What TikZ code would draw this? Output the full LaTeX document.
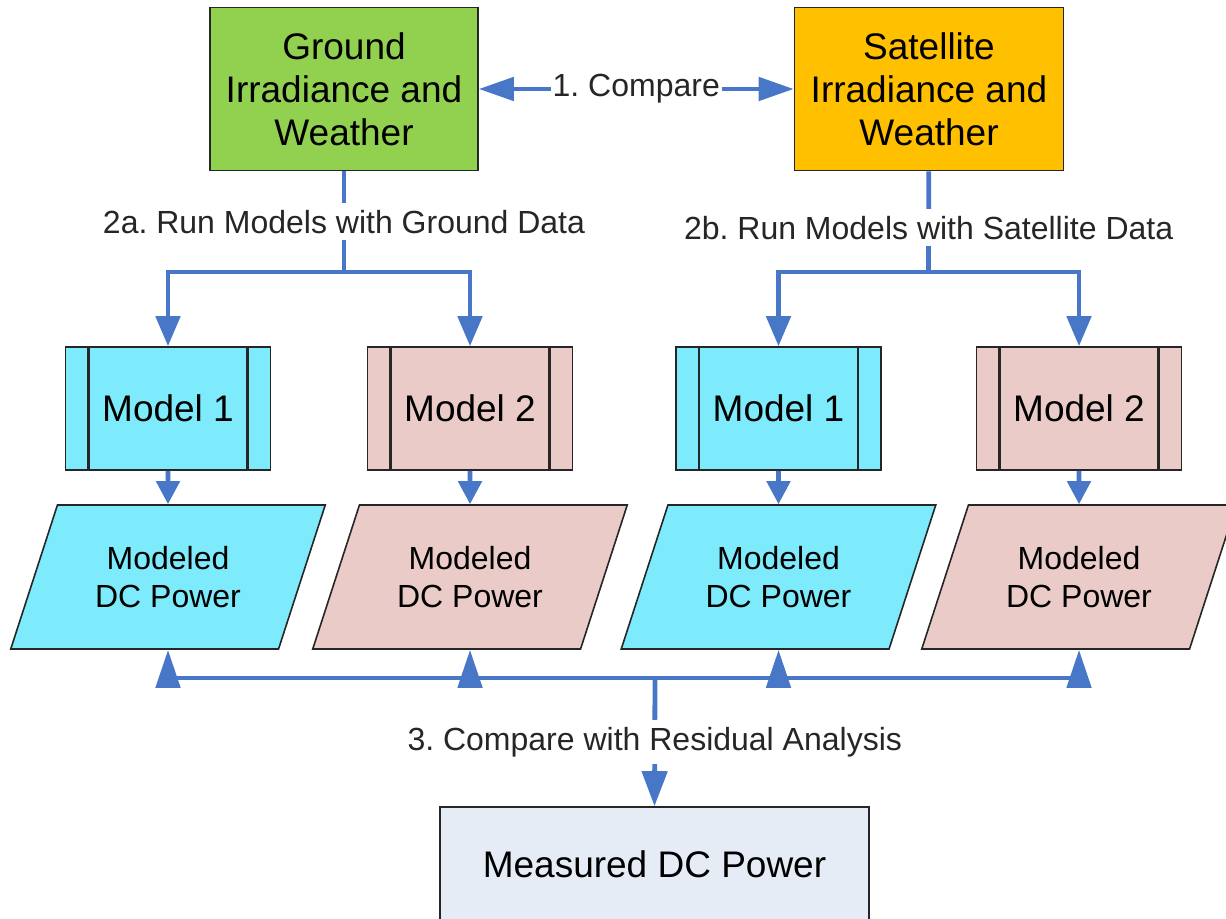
\documentclass[tikz,border=0pt]{standalone}
\usepackage{fontspec}
\setmainfont{Liberation Sans}
\usetikzlibrary{positioning,arrows.meta,shapes.geometric,calc}
\frenchspacing

\definecolor{groundgreen}{HTML}{92D050}
\definecolor{satorange}{HTML}{FFC000}
\definecolor{modelcyan}{HTML}{7DEBFC}
\definecolor{modelpink}{HTML}{EACBC8}
\definecolor{measblue}{HTML}{E6ECF6}
\definecolor{flowblue}{HTML}{4777C6}

\tikzset{
  databox/.style={draw=black!85, line width=0.8pt, align=center, inner sep=0pt,
    font=\fontsize{18.5}{21.5}\selectfont},
  procbox/.style={databox, minimum width=102.5pt, minimum height=61.5pt,
    path picture={
      \draw[line width=1.2pt] ([xshift=11.5pt]path picture bounding box.north west) -- ([xshift=11.5pt]path picture bounding box.south west);
      \draw[line width=1.2pt] ([xshift=-11.5pt]path picture bounding box.north east) -- ([xshift=-11.5pt]path picture bounding box.south east);}},
  outbox/.style={trapezium, trapezium left angle=63.4, trapezium right angle=116.6,
    trapezium stretches=true, draw=black!85, line width=0.8pt, inner sep=0pt,
    minimum width=157.5pt, minimum height=72pt, align=center,
    font=\fontsize{16}{19}\selectfont},
  flow/.style={draw=flowblue, line width=2.4pt},
  lbl/.style={fill=white, inner xsep=1pt, inner ysep=3.5pt, text=black!85,
    font=\fontsize{16}{19}\selectfont},
}

\begin{document}
\begin{tikzpicture}[x=0.5pt, y=-0.5pt]
  \useasboundingbox (0,0) rectangle (1226,919);
  % sources
  \node[databox, fill=groundgreen, minimum width=134pt, minimum height=81.5pt] (ground) at (344,89) {Ground\\Irradiance and\\Weather};
  \node[databox, fill=satorange, minimum width=134.5pt, minimum height=81.5pt] (sat) at (929,89) {Satellite\\Irradiance and\\Weather};
  % models
  \node[procbox, fill=modelcyan] (m1g) at (168,408.5) {Model 1};
  \node[procbox, fill=modelpink] (m2g) at (470,408.5) {Model 2};
  \node[procbox, fill=modelcyan] (m1s) at (778.5,408.5) {Model 1};
  \node[procbox, fill=modelpink] (m2s) at (1079,408.5) {Model 2};
  % modeled output
  \node[outbox, fill=modelcyan] (p1g) at (168,577) {Modeled\\DC Power};
  \node[outbox, fill=modelpink] (p2g) at (470,577) {Modeled\\DC Power};
  \node[outbox, fill=modelcyan] (p1s) at (778.5,577) {Modeled\\DC Power};
  \node[outbox, fill=modelpink] (p2s) at (1079,577) {Modeled\\DC Power};
  % measured (runs off the bottom edge)
  \node[databox, fill=measblue, minimum width=214.5pt, minimum height=62pt, text depth=5pt] (meas) at (654.5,869) {Measured DC Power};

  \coordinate (splitg) at (344,272);
  \coordinate (splits) at (928.5,272);
  \coordinate (bus) at (655,678);

  % step 1
  \draw[flow, {Triangle[length=17.5pt,width=11.5pt]}-{Triangle[length=17.5pt,width=11.5pt]}] (ground) -- node[lbl] {1. Compare} (sat);
  % step 2a / 2b
  \draw[flow] (ground) -- node[lbl] {2a. Run Models with Ground Data} (splitg);
  \draw[flow, -{Triangle[length=15pt,width=12pt]}] (splitg) -| (m1g.north);
  \draw[flow, -{Triangle[length=15pt,width=12pt]}] (splitg) -| (m2g.north);
  \draw[flow] (sat) -- node[lbl, pos=.56] {2b. Run Models with Satellite Data} (splits);
  \draw[flow, -{Triangle[length=15pt,width=12pt]}] (splits) -| (m1s.north);
  \draw[flow, -{Triangle[length=15pt,width=12pt]}] (splits) -| (m2s.north);
  % model -> output
  \draw[flow, -{Triangle[length=11.5pt,width=11.5pt]}] (m1g) -- (p1g);
  \draw[flow, -{Triangle[length=11.5pt,width=11.5pt]}] (m2g) -- (p2g);
  \draw[flow, -{Triangle[length=11.5pt,width=11.5pt]}] (m1s) -- (p1s);
  \draw[flow, -{Triangle[length=11.5pt,width=11.5pt]}] (m2s) -- (p2s);
  % step 3
  \draw[flow] (p1g.south |- bus) -- (p2s.south |- bus);
  \draw[flow, -{Triangle[length=19pt,width=12pt]}] ($(p1g.south |- bus)+(0,-4.5pt)$) -- (p1g.south);
  \draw[flow, -{Triangle[length=19pt,width=12pt]}] ($(p2g.south |- bus)+(0,-4.5pt)$) -- (p2g.south);
  \draw[flow, -{Triangle[length=19pt,width=12pt]}] ($(p1s.south |- bus)+(0,-4.5pt)$) -- (p1s.south);
  \draw[flow, -{Triangle[length=19pt,width=12pt]}] ($(p2s.south |- bus)+(0,-4.5pt)$) -- (p2s.south);
  \draw[flow, -{Triangle[length=17.5pt,width=12.5pt]}] (bus) -- node[lbl] {3. Compare with Residual Analysis} (meas.north);
\end{tikzpicture}
\end{document}
